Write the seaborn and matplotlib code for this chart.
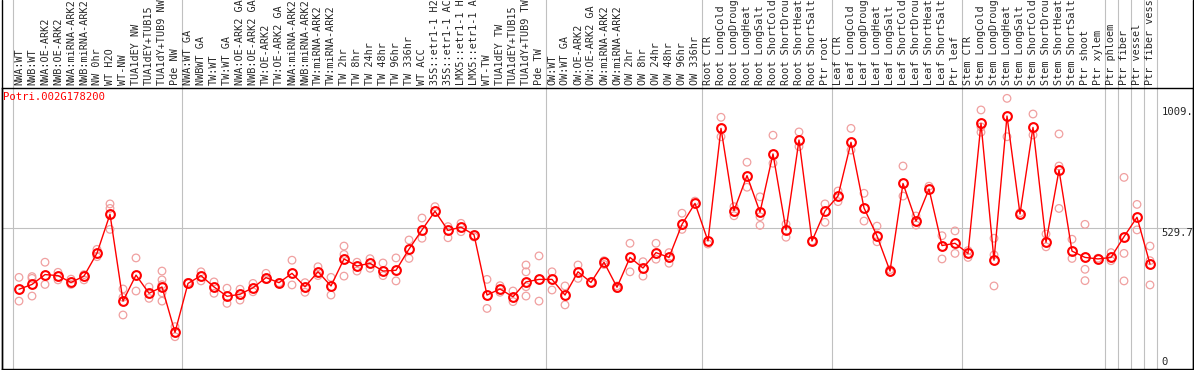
import numpy as np
import pandas as pd
import matplotlib
matplotlib.use('Agg')
import matplotlib.pyplot as plt
import seaborn as sns

# sample names (as shown, cut to 14 chars)
labels = ['NWA:WT', 'NWB:WT', 'NWA:OE-ARK2', 'NWB:OE-ARK2', 'NWA:miRNA-ARK2', 'NWB:miRNA-ARK2',
          'NW 0hr', 'WT H2O', 'WT-NW', 'TUA1dEY NW', 'TUA1dEY+TUB15', 'TUA1dY+TUB9 NW', 'Pde NW',
          'NWA:WT GA', 'NWBWT GA', 'TW:WT', 'TW:WT GA', 'NWA:OE-ARK2 GA', 'NWB:OE-ARK2 GA',
          'TW:OE-ARK2', 'TW:OE-ARK2 GA', 'NWA:miRNA-ARK2', 'NWB:miRNA-ARK2', 'TW:miRNA-ARK2',
          'TW:miRNA-ARK2', 'TW 2hr', 'TW 8hr', 'TW 24hr', 'TW 48hr', 'TW 96hr', 'TW 336hr',
          'WT ACC', '35S::etr1-1 H2', '35S::etr1-1 AC', 'LMX5::etr1-1 H', 'LMX5::etr1-1 A',
          'WT-TW', 'TUA1dEY TW', 'TUA1dEY+TUB15', 'TUA1dY+TUB9 TW', 'Pde TW',
          'OW:WT', 'OW:WT GA', 'OW:OE-ARK2', 'OW:OE-ARK2 GA', 'OW:miRNA-ARK2', 'OW:miRNA-ARK2',
          'OW 2hr', 'OW 8hr', 'OW 24hr', 'OW 48hr', 'OW 96hr', 'OW 336hr',
          'Root CTR', 'Root LongCold', 'Root LongDroug', 'Root LongHeat', 'Root LongSalt',
          'Root ShortCold', 'Root ShortDrou', 'Root ShortHeat', 'Root ShortSalt', 'Ptr root',
          'Leaf CTR', 'Leaf LongCold', 'Leaf LongDroug', 'Leaf LongHeat', 'Leaf LongSalt',
          'Leaf ShortCold', 'Leaf ShortDrou', 'Leaf ShortHeat', 'Leaf ShortSalt', 'Ptr leaf',
          'Stem CTR', 'Stem LongCold', 'Stem LongDroug', 'Stem LongHeat', 'Stem LongSalt',
          'Stem ShortCold', 'Stem ShortDrou', 'Stem ShortHeat', 'Stem ShortSalt', 'Ptr shoot',
          'Ptr xylem', 'Ptr phloem', 'Ptr fiber', 'Ptr vessel', 'Ptr fiber vess']
group_sizes = [13, 28, 12, 10, 10, 11, 1, 1, 1, 1]

means = [287, 306, 345, 341, 314, 339, 430, 584, 240, 343,
         271, 296, 116, 310, 341, 296, 259, 267, 293, 333,
         313, 350, 297, 356, 300, 407, 379, 390, 359, 362,
         446, 522, 596, 520, 533, 503, 264, 288, 257, 316,
         326, 326, 264, 356, 314, 394, 295, 413, 371, 432,
         413, 544, 627, 478, 924, 598, 737, 592, 823, 522,
         878, 478, 597, 656, 869, 609, 498, 359, 706, 557,
         684, 460, 469, 429, 944, 402, 973, 585, 928, 473,
         759, 438, 413, 407, 413, 495, 572, 387]

reps = [[334, 240], [337, 330, 260], [394, 306], [354, 324], [327, 306], [324, 345],
        [445, 416], [625, 607, 524], [288, 185, 255], [411, 280], [296, 251],
        [359, 324, 305, 273, 240], [139, 99], [314], [356, 320], [316, 271], [291, 231],
        [287, 244], [310, 277], [350, 325], [313], [402, 304], [313, 275], [376, 341],
        [334, 264], [458, 425, 339], [394, 359], [408, 370], [391, 341], [411, 320],
        [482, 409], [569, 489], [614], [535, 491], [548, 515], [494], [326, 211],
        [301, 275], [280, 238], [383, 356, 297, 260], [419, 240], [356, 284], [300, 225],
        [383, 330], [314], [400, 385], [300, 290], [469, 356], [396, 339], [469, 406],
        [432, 390], [588, 524], [636], [466], [968, 891], [614, 578], [790, 691],
        [653, 574, 540], [897, 786], [545, 493], [910, 852], [478], [625, 552], [676, 634],
        [924, 838], [667, 557], [537, 475], [365, 355], [775, 656], [577, 541], [695],
        [499, 407], [518, 429], [440, 413], [997, 930, 909], [489, 423, 300], [1043, 891],
        [590], [981, 898], [506, 455], [902, 775, 607], [485, 409], [544, 366, 321], [410],
        [432, 400], [730, 429, 320], [623, 522], [458, 400, 304]]

ytick_vals = [0, 529.7, 1009.4]
ytick_text = ['0', '529.7', '1009.']
gene = 'Potri.002G178200'

sns.set_style('white')
plt.rcParams['font.family'] = ['DejaVu Sans Mono']

idx = np.arange(len(labels))
df_mean = pd.DataFrame({'x': idx, 'y': means})
df_rep = pd.DataFrame([(i, v) for i, r in enumerate(reps) for v in r], columns=['x', 'y'])

W, H = 1194, 370
fig = plt.figure(figsize=(W / 100, H / 100), dpi=100)
top_px = 88
ax = fig.add_axes([2 / W, 1 / H, 1191 / W, (369 - top_px) / H])

grey = '#c0c0c0'
ax.axhline(529.7, color=grey, lw=0.8, zorder=0)
bounds = np.concatenate([[0], np.cumsum(group_sizes)]) - 0.5
for b in bounds:
    ax.axvline(b, ymin=0, ymax=369 / (369 - top_px) + 0.01, color=grey, lw=0.8,
               clip_on=False, zorder=0)

sns.scatterplot(data=df_rep, x='x', y='y', ax=ax, marker='o', s=30,
                facecolor='none', edgecolor='#f0a0a0', linewidth=0.9, zorder=2)
sns.lineplot(data=df_mean, x='x', y='y', ax=ax, color='red', lw=1.0, marker='o',
             markersize=6.3, markerfacecolor='none', markeredgecolor='red',
             markeredgewidth=1.5, zorder=3)

ax.set_xlim((2 - 19) / 13, (1193 - 19) / 13)
ax.set_ylim(-28.9, 1084)
ax.set_xlabel('')
ax.set_ylabel('')

ax.xaxis.tick_top()
ax.set_xticks(idx)
ax.set_xticklabels(labels, rotation=90, fontsize=7.3)
ax.tick_params(axis='x', length=0, pad=2.5)

ax.yaxis.tick_right()
ax.set_yticks(ytick_vals)
ax.set_yticklabels(ytick_text, fontsize=7.6)
ax.tick_params(axis='y', length=0, pad=-22.5)
yl = ax.get_yticklabels()
yl[0].set_va('center')
yl[1].set_va('top')
yl[2].set_va('top')

for s in ax.spines.values():
    s.set_color('black')
    s.set_linewidth(1.0)

# borders of the label band
for xf in [2 / W, 1193 / W]:
    fig.add_artist(plt.Line2D([xf, xf], [0, 1], transform=fig.transFigure,
                              color='black', lw=1.0))

ax.text(1 / 1191, (369 - 92) / (369 - top_px), gene, transform=ax.transAxes,
        color='red', fontsize=7.6, va='top', ha='left')

fig.savefig('out.png', dpi=100)
